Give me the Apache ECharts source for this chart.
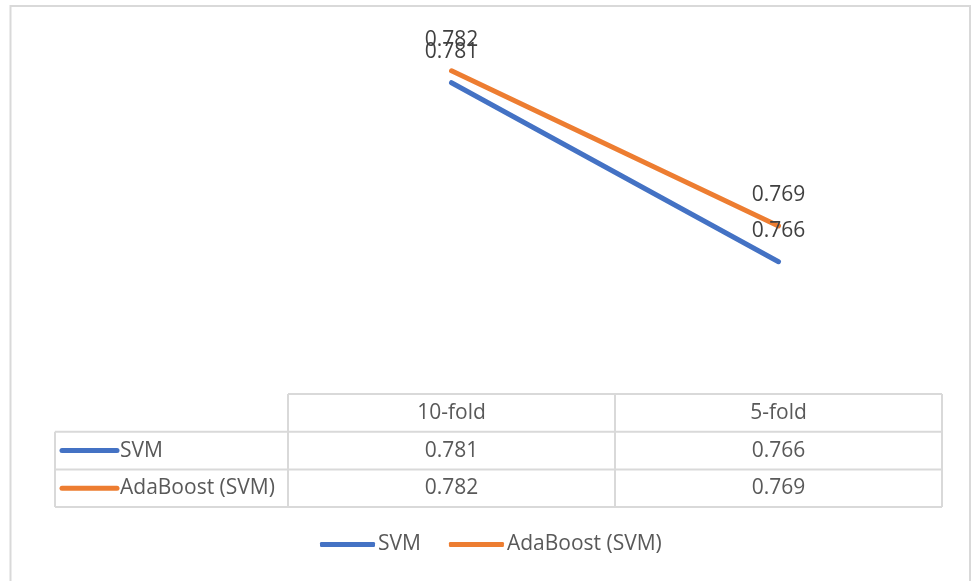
<!DOCTYPE html>
<html>
<head>
<meta charset="utf-8">
<script src="https://cdn.jsdelivr.net/npm/echarts@6/dist/echarts.min.js"></script>
<style>
  html, body { margin: 0; padding: 0; background: #ffffff; }
  #chart { width: 971px; height: 581px; }
</style>
</head>
<body>
<div id="chart"></div>
<script>
// Validation scheme on the x axis, accuracy per model as series
const categories = ['10-fold', '5-fold'];
const seriesNames = ['SVM', 'AdaBoost (SVM)'];
const svmValues = [0.781, 0.766];
const adaBoostValues = [0.782, 0.769];
const seriesColors = ['#4472C4', '#ED7D31'];

const FONT = '"Open Sans", "Noto Sans", sans-serif';
const FONT_SIZE = 21;
const TEXT_DARK = '#404040';
const TEXT_GRAY = '#595959';
const BORDER = '#d9d9d9';

// Plot area geometry (the data table sits right below it and shares its columns)
const GRID_LEFT = 288;
const GRID_RIGHT = 29;
const GRID_TOP = 35;
const GRID_BOTTOM = 188;

const TABLE_TOP = 394;
const ROW_H = 37.7;
const ROW_LABEL_LEFT = 55;

const chart = echarts.init(document.getElementById('chart'), null, { renderer: 'canvas' });

const valueLists = [svmValues, adaBoostValues];

function lineSeries(i) {
  return {
    name: seriesNames[i],
    type: 'line',
    data: valueLists[i],
    symbol: 'circle',
    symbolSize: 1,
    showSymbol: true,
    itemStyle: { color: seriesColors[i] },
    lineStyle: { color: seriesColors[i], width: 5, cap: 'round' },
    label: {
      show: true,
      position: 'top',
      distance: 20,
      color: TEXT_DARK,
      fontFamily: FONT,
      fontSize: FONT_SIZE,
      formatter: (p) => p.value.toFixed(3)
    },
    emphasis: { disabled: true },
    animation: false
  };
}

chart.setOption({
  backgroundColor: '#ffffff',
  animation: false,
  grid: { left: GRID_LEFT, right: GRID_RIGHT, top: GRID_TOP, bottom: GRID_BOTTOM },
  xAxis: {
    type: 'category',
    data: categories,
    boundaryGap: true,
    show: false
  },
  yAxis: {
    type: 'value',
    min: 0.755,
    max: 0.785,
    show: false,
    splitLine: { show: false }
  },
  legend: {
    data: seriesNames,
    left: 320,
    top: 534,
    padding: 0,
    icon: 'roundRect',
    itemWidth: 55,
    itemHeight: 5,
    itemGap: 28,
    textStyle: { color: TEXT_GRAY, fontFamily: FONT, fontSize: FONT_SIZE, padding: [0, 0, 0, -2] },
    selectedMode: false
  },
  series: [lineSeries(0), lineSeries(1)]
});

// Data table under the plot, built from the same arrays and the axis scale
const colCenters = categories.map((c) => chart.convertToPixel({ xAxisIndex: 0 }, c));
const bandW = colCenters.length > 1 ? colCenters[1] - colCenters[0] : 654;
const colEdges = [colCenters[0] - bandW / 2];
colCenters.forEach((c) => colEdges.push(c + bandW / 2));
const tableRight = colEdges[colEdges.length - 1];
const rowLines = [0, 1, 2, 3].map((k) => TABLE_TOP + k * ROW_H);

const elements = [];
const lineEl = (x1, y1, x2, y2) => ({
  type: 'line',
  shape: { x1, y1, x2, y2 },
  style: { stroke: BORDER, lineWidth: 2 },
  silent: true
});
const textEl = (x, y, text, align) => ({
  type: 'text',
  x, y,
  style: {
    text,
    fill: TEXT_GRAY,
    font: FONT_SIZE + 'px ' + FONT,
    align: align || 'center',
    verticalAlign: 'middle'
  },
  silent: true
});

// Outer chart frame
elements.push({
  type: 'rect',
  shape: { x: 10.5, y: 6, width: 959.5, height: 620 },
  style: { fill: 'none', stroke: BORDER, lineWidth: 2 },
  silent: true
});

// Horizontal rules
elements.push(lineEl(colEdges[0], rowLines[0], tableRight, rowLines[0]));
for (let k = 1; k < rowLines.length; k++) {
  elements.push(lineEl(ROW_LABEL_LEFT, rowLines[k], tableRight, rowLines[k]));
}
// Vertical rules
elements.push(lineEl(ROW_LABEL_LEFT, rowLines[1], ROW_LABEL_LEFT, rowLines[3]));
colEdges.forEach((x) => elements.push(lineEl(x, rowLines[0], x, rowLines[3])));

// Header cells
categories.forEach((c, j) => {
  elements.push(textEl(colCenters[j], (rowLines[0] + rowLines[1]) / 2, c));
});

// Series rows: legend key, name and values
seriesNames.forEach((name, i) => {
  const cy = (rowLines[i + 1] + rowLines[i + 2]) / 2;
  elements.push({
    type: 'line',
    shape: { x1: 62, y1: cy, x2: 117, y2: cy },
    style: { stroke: seriesColors[i], lineWidth: 5, lineCap: 'round' },
    silent: true
  });
  elements.push(textEl(120, cy, name, 'left'));
  valueLists[i].forEach((v, j) => {
    elements.push(textEl(colCenters[j], cy, v.toFixed(3)));
  });
});

chart.setOption({ graphic: { elements } });
</script>
</body>
</html>
